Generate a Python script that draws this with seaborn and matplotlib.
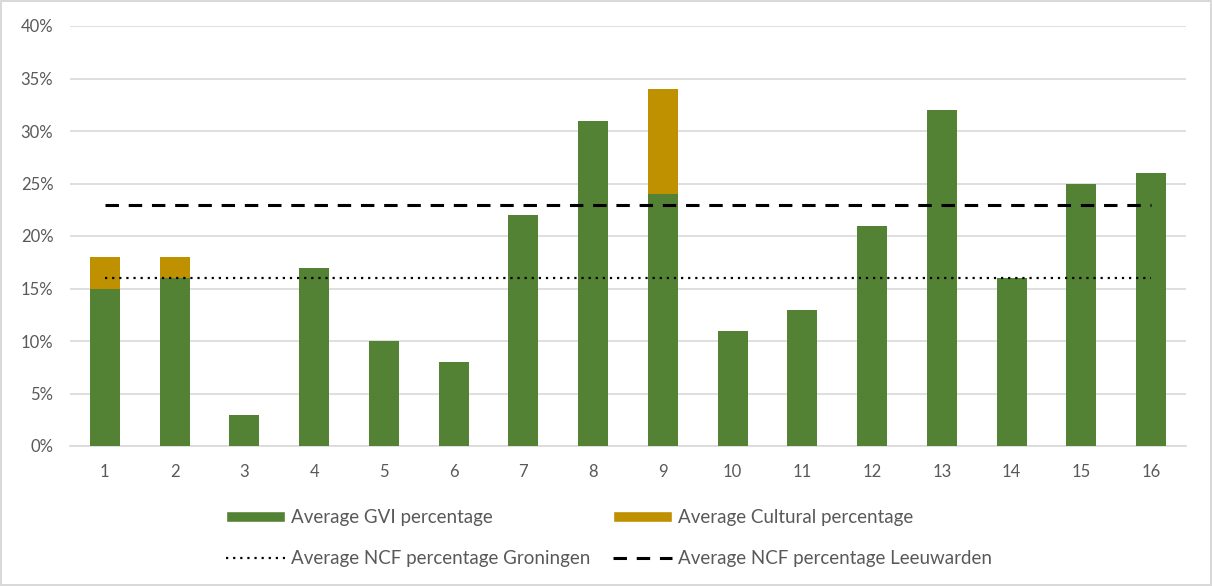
import numpy as np
import pandas as pd
import seaborn as sns
import matplotlib.pyplot as plt
from matplotlib.lines import Line2D
from matplotlib.patches import Patch

# Chart data (percentages)
sites = [str(i) for i in range(1, 17)]
gvi = [15, 16, 3, 17, 10, 8, 22, 31, 24, 11, 13, 21, 32, 16, 25, 26]
cultural = [3, 2, 0, 0, 0, 0, 0, 0, 10, 0, 0, 0, 0, 0, 0, 0]
ncf_groningen = 16
ncf_leeuwarden = 23
yticks = [0, 5, 10, 15, 20, 25, 30, 35, 40]

green = '#548235'
gold = '#BF9000'
grey_txt = '#595959'
grid_col = '#D9D9D9'

df = pd.DataFrame({'Site': sites, 'GVI': gvi, 'Cultural': cultural})
df['Total'] = df['GVI'] + df['Cultural']

sns.set_theme(style='white')
plt.rcParams['font.family'] = ['Lato', 'DejaVu Sans']

fig = plt.figure(figsize=(12.12, 5.86), dpi=100)
fig.patch.set_edgecolor(grid_col)
fig.patch.set_linewidth(1.5)
ax = fig.add_axes([70 / 1212, 1 - 446 / 586, 1116 / 1212, 420 / 586])

# stacked bars: draw the total in gold, then the GVI part in green on top
sns.barplot(data=df, x='Site', y='Total', color=gold, width=0.43, saturation=1,
            linewidth=0, ax=ax, zorder=2)
sns.barplot(data=df, x='Site', y='GVI', color=green, width=0.43, saturation=1,
            linewidth=0, ax=ax, zorder=3)

# average NCF lines
last = len(sites) - 1
ax.hlines(ncf_groningen, 0, last, colors='black', linewidth=1.6,
          linestyles=[(0, (1, 2.2))], zorder=4)
ax.hlines(ncf_leeuwarden, 0, last, colors='black', linewidth=2.2,
          linestyles=[(0, (4.4, 3.2))], zorder=4)

ax.set_xlim(-0.5, len(sites) - 0.5)
ax.set_ylim(0, 40)
ax.set_yticks(yticks)
ax.set_yticklabels([f'{t}%' for t in yticks])
ax.yaxis.grid(True, color=grid_col, linewidth=1.2, zorder=0)
ax.set_axisbelow(True)
ax.set_xlabel('')
ax.set_ylabel('')
for s in ['top', 'right', 'left']:
    ax.spines[s].set_visible(False)
ax.spines['bottom'].set_color(grid_col)
ax.spines['bottom'].set_linewidth(1.2)
ax.tick_params(axis='y', length=0, pad=12, labelsize=12, labelcolor=grey_txt)
ax.tick_params(axis='x', length=0, pad=13, labelsize=12, labelcolor=grey_txt)

handles = [
    Patch(facecolor=green, label='Average GVI percentage'),
    Line2D([0], [0], color='black', linewidth=1.6, linestyle=(0, (1, 2.2)),
           label='Average NCF percentage Groningen'),
    Patch(facecolor=gold, label='Average Cultural percentage'),
    Line2D([0], [0], color='black', linewidth=2.2, linestyle=(0, (4.4, 3.2)),
           label='Average NCF percentage Leeuwarden'),
]
leg = fig.legend(handles=handles, ncol=2, loc='center left',
                 bbox_to_anchor=(217 / 1212, 1 - 538 / 586), frameon=False,
                 fontsize=13.5, handlelength=3.15, handleheight=0.55, handletextpad=0.32,
                 columnspacing=1.2, labelspacing=1.25, borderpad=0)
for t in leg.get_texts():
    t.set_color(grey_txt)

fig.savefig('out.png', dpi=100, edgecolor=fig.get_edgecolor())
